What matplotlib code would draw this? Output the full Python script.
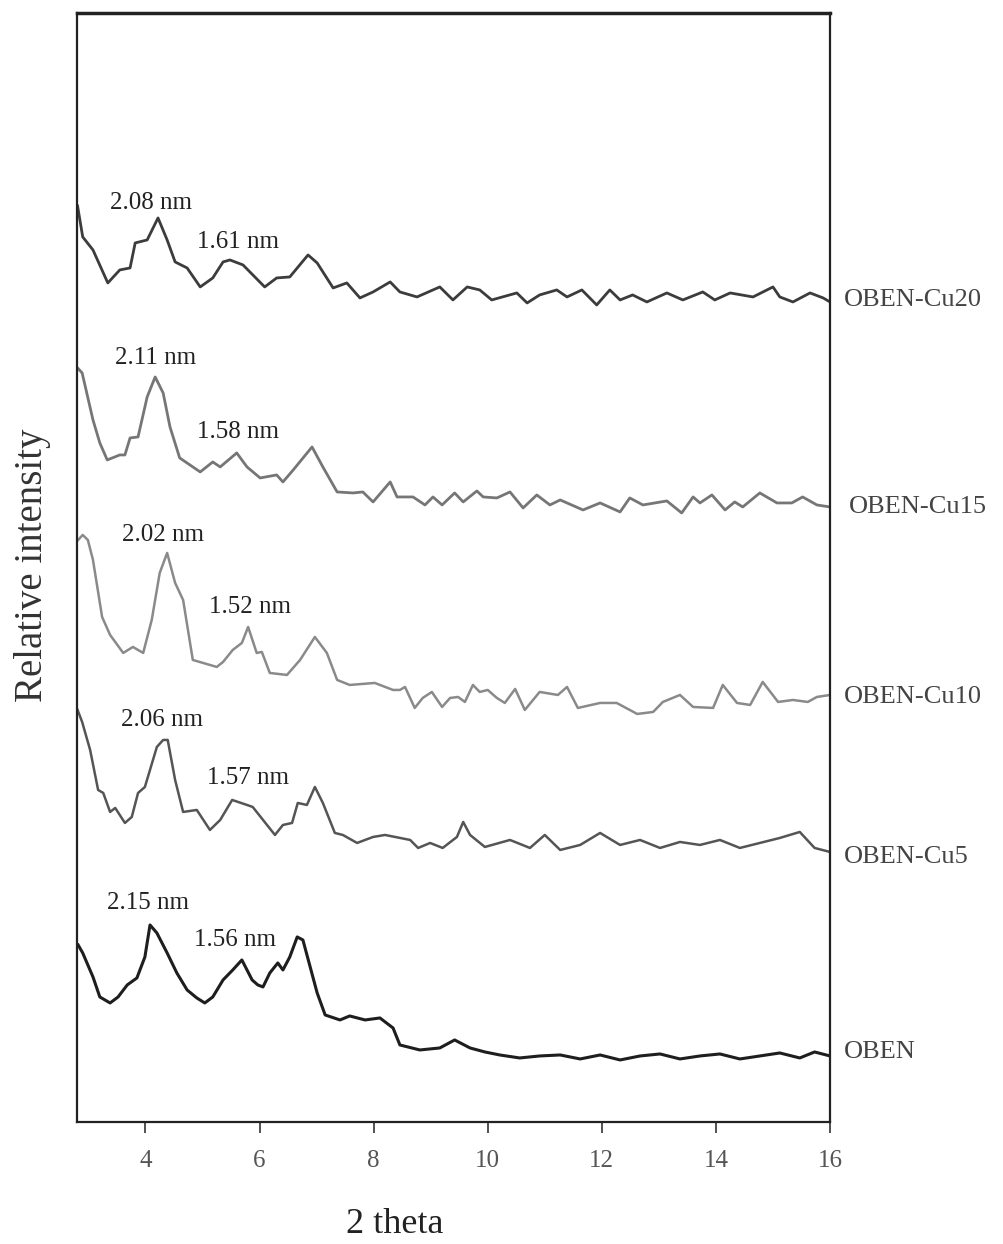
import matplotlib
matplotlib.use('Agg')
import matplotlib.pyplot as plt

plt.rcParams['font.family'] = ['Liberation Serif', 'DejaVu Serif']

# 2 theta (deg) and relative intensity (a.u., curves already stacked)
cu20_x = [2.81, 2.90, 3.08, 3.34, 3.55, 3.73, 3.82, 4.03, 4.22, 4.38, 4.52, 4.73, 4.96, 5.18,
          5.36, 5.48, 5.71, 6.09, 6.30, 6.53, 6.85, 7.01, 7.29, 7.53, 7.76, 7.99, 8.29, 8.46,
          8.76, 9.16, 9.39, 9.64, 9.86, 10.07, 10.51, 10.69, 10.91, 11.21, 11.39, 11.65, 11.91,
          12.14, 12.32, 12.54, 12.79, 13.14, 13.42, 13.77, 13.98, 14.25, 14.65, 15.00, 15.12,
          15.35, 15.65, 15.88, 16.00]
cu20_y = [916, 885, 872, 839, 852, 854, 879, 882, 904, 882, 860, 854, 835, 844,
          860, 862, 857, 835, 844, 845, 867, 859, 834, 839, 824, 830, 840, 830,
          825, 835, 822, 835, 832, 822, 829, 819, 827, 832, 825, 832, 817,
          832, 822, 827, 820, 829, 822, 830, 822, 829, 825, 835, 825,
          820, 829, 824, 820]

cu15_x = [2.81, 2.89, 3.08, 3.20, 3.33, 3.55, 3.64, 3.73, 3.87, 4.03, 4.17, 4.31, 4.43, 4.60,
          4.78, 4.96, 5.18, 5.31, 5.60, 5.78, 6.01, 6.30, 6.41, 6.59, 6.92, 7.11, 7.36, 7.64,
          7.81, 7.99, 8.29, 8.41, 8.69, 8.90, 9.04, 9.20, 9.42, 9.57, 9.81, 9.92, 10.16, 10.39,
          10.62, 10.86, 11.09, 11.27, 11.67, 11.97, 12.32, 12.49, 12.72, 13.14, 13.40, 13.60,
          13.72, 13.93, 14.16, 14.33, 14.47, 14.77, 15.07, 15.33, 15.52, 15.77, 16.00]
cu15_y = [754, 749, 702, 679, 662, 667, 667, 684, 685, 725, 745, 729, 695, 664,
          657, 650, 660, 655, 669, 655, 644, 647, 640, 652, 675, 655, 630, 629,
          630, 620, 640, 625, 625, 617, 625, 617, 629, 620, 631, 625, 624, 630,
          614, 627, 617, 622, 612, 619, 610, 624, 617, 621, 609, 625,
          619, 627, 612, 620, 615, 629, 619, 619, 625, 617, 615]

cu10_x = [2.82, 2.90, 2.99, 3.08, 3.24, 3.38, 3.61, 3.78, 3.96, 4.11, 4.25, 4.38, 4.52, 4.66,
          4.83, 5.01, 5.25, 5.36, 5.53, 5.69, 5.80, 5.95, 6.04, 6.18, 6.48, 6.71, 6.97, 7.18,
          7.36, 7.58, 8.02, 8.34, 8.46, 8.55, 8.72, 8.86, 9.02, 9.20, 9.34, 9.48, 9.60, 9.74,
          9.86, 10.00, 10.16, 10.30, 10.48, 10.65, 10.91, 11.23, 11.39, 11.58, 11.97, 12.26,
          12.62, 12.90, 13.07, 13.37, 13.60, 13.95, 14.12, 14.37, 14.60, 14.82, 15.09, 15.35,
          15.61, 15.77, 16.00]
cu10_y = [582, 587, 582, 562, 505, 487, 469, 475, 469, 502, 549, 569, 539, 522,
          462, 459, 455, 460, 472, 479, 495, 469, 470, 449, 447, 462, 485, 469,
          442, 437, 439, 432, 432, 435, 414, 424, 430, 415, 424, 425, 420, 437,
          430, 432, 424, 419, 433, 412, 430, 427, 435, 414, 419, 419,
          408, 410, 420, 427, 415, 414, 437, 419, 417, 440, 420, 422,
          420, 425, 427]

cu5_x = [2.81, 2.89, 3.03, 3.17, 3.26, 3.38, 3.47, 3.64, 3.76, 3.87, 3.99, 4.20, 4.31, 4.39,
         4.52, 4.66, 4.90, 5.13, 5.31, 5.52, 5.78, 5.88, 6.27, 6.41, 6.57, 6.67, 6.83, 6.97,
         7.11, 7.32, 7.46, 7.71, 7.99, 8.20, 8.64, 8.78, 8.99, 9.21, 9.46, 9.57, 9.69, 9.95,
         10.39, 10.74, 11.00, 11.27, 11.62, 11.97, 12.32, 12.67, 13.02, 13.37, 13.72, 14.07,
         14.42, 14.77, 15.12, 15.47, 15.73, 16.00]
cu5_y = [412, 400, 372, 332, 329, 310, 314, 299, 305, 329, 335, 375, 382, 382,
         342, 310, 312, 292, 302, 322, 317, 315, 287, 297, 299, 319, 317, 335,
         319, 289, 287, 279, 285, 287, 282, 274, 279, 274, 285, 300, 287, 275,
         282, 274, 287, 272, 277, 289, 277, 282, 274, 280, 277, 282,
         274, 279, 284, 290, 274, 270]

oben_x = [2.82, 2.90, 3.08, 3.20, 3.38, 3.52, 3.68, 3.85, 3.99, 4.08, 4.20, 4.38, 4.55, 4.73,
          4.90, 5.04, 5.18, 5.36, 5.53, 5.69, 5.87, 5.97, 6.06, 6.18, 6.32, 6.41, 6.53, 6.66,
          6.76, 7.01, 7.15, 7.41, 7.58, 7.85, 8.11, 8.34, 8.46, 8.81, 9.16, 9.42, 9.69, 9.95,
          10.21, 10.56, 10.91, 11.27, 11.62, 11.97, 12.32, 12.67, 13.02, 13.37, 13.72, 14.07,
          14.42, 14.77, 15.12, 15.47, 15.73, 16.00]
oben_y = [177, 169, 145, 125, 119, 125, 137, 144, 165, 197, 189, 169, 149, 132,
          124, 119, 125, 142, 152, 162, 142, 137, 135, 149, 159, 152, 165, 185,
          182, 129, 107, 102, 106, 102, 104, 94, 77, 72, 74, 82, 74, 70,
          67, 64, 66, 67, 63, 67, 62, 66, 68, 63, 66, 68,
          63, 66, 69, 64, 70, 66]

series_names = ['OBEN-Cu20', 'OBEN-Cu15', 'OBEN-Cu10', 'OBEN-Cu5', 'OBEN']
series_x = [cu20_x, cu15_x, cu10_x, cu5_x, oben_x]
series_y = [cu20_y, cu15_y, cu10_y, cu5_y, oben_y]
colors = ['#3c3c3c', '#767676', '#8a8a8a', '#555555', '#1e1e1e']
widths = [2.0, 2.0, 1.8, 1.8, 2.2]

# right-hand labels (x, y) and d-spacing notes
name_pos = [(16.24, 822), (16.33, 615), (16.24, 425), (16.24, 265), (16.24, 70)]
peak_labels = ['2.08 nm', '1.61 nm', '2.11 nm', '1.58 nm', '2.02 nm', '1.52 nm',
               '2.06 nm', '1.57 nm', '2.15 nm', '1.56 nm']
peak_pos = [(4.10, 919), (5.62, 880), (4.17, 764), (5.62, 690), (4.31, 587), (5.83, 515),
            (4.29, 402), (5.80, 344), (4.04, 219), (5.57, 182)]

fig = plt.figure(figsize=(10.04, 12.44), dpi=100)
ax = fig.add_axes([0.0767, 0.0981, 0.75, 0.8915])

for xs, ys, c, lw in zip(series_x, series_y, colors, widths):
    ax.plot(xs, ys, color=c, lw=lw)

for name, (tx, ty) in zip(series_names, name_pos):
    ax.text(tx, ty, name, fontsize=19, color='#444444', ha='left', va='center', clip_on=False)

for lab, (tx, ty) in zip(peak_labels, peak_pos):
    ax.text(tx, ty, lab, fontsize=18, color='#222222', ha='center', va='center')

ax.set_xlim(2.8, 16)
ax.set_ylim(0, 1109)
ax.set_xticks([4, 6, 8, 10, 12, 14, 16])
ax.set_yticks([])
ax.tick_params(axis='x', direction='out', length=8, width=1.2, color='#333333',
               labelsize=18, labelcolor='#555555', pad=12)
for s in ax.spines.values():
    s.set_linewidth(1.6)
    s.set_color('#222222')
ax.spines['top'].set_linewidth(2.5)

fig.text(0.0319, 0.5458, 'Relative intensity', rotation=90, fontsize=28, color='#333333',
         ha='center', va='center')
fig.text(0.393, 0.0153, '2 theta', fontsize=26, color='#222222', ha='center', va='center')

fig.savefig('out.png', dpi=100)
